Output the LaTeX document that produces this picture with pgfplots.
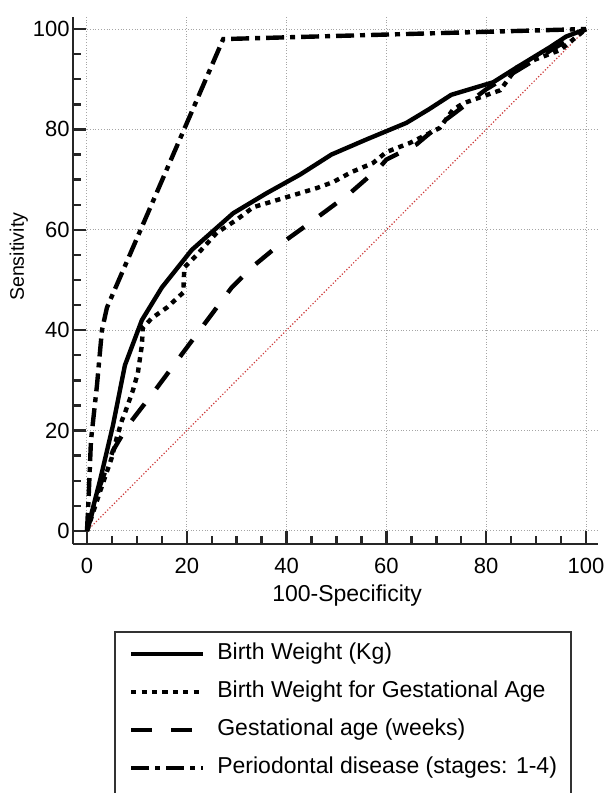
\documentclass[border=0pt]{standalone}
\usepackage{fontspec}
\setmainfont{Liberation Sans}
\usepackage{pgfplots}
\pgfplotsset{compat=1.18}

\definecolor{diagred}{RGB}{205,60,60}
\definecolor{gridgray}{RGB}{165,165,165}

\begin{document}
\begin{tikzpicture}
\useasboundingbox (0,0) rectangle (307pt,396.5pt);
\begin{axis}[
    at={(36.5pt,124.5pt)}, anchor=south west,
    scale only axis, width=262.5pt, height=263.5pt,
    xmin=-2.8, xmax=102.4, ymin=-2.6, ymax=102.4,
    axis lines=left,
    axis line style={-, line width=1.3pt, black!85},
    xtick={0,20,...,100}, ytick={0,20,...,100},
    minor tick num=3,
    tick align=inside,
    major tick length=6.5pt, minor tick length=4pt,
    tick style={line width=1.2pt, black!85},
    grid=major,
    major grid style={gridgray, densely dotted, line width=0.5pt},
    /pgf/number format/assume math mode=true,
    tick label style={font=\fontsize{11}{13}\selectfont},
    xticklabel style={inner sep=0pt, yshift=-7pt},
    yticklabel style={inner sep=0pt, xshift=-1.5pt},
    xlabel={100-Specificity},
    ylabel={Sensitivity},
    xlabel style={font=\fontsize{11.5}{13}\selectfont, at={(axis description cs:0.522,-0.097)}, anchor=center},
    ylabel style={font=\fontsize{9.8}{12}\selectfont, at={(axis description cs:-0.103,0.545)}, anchor=center},
    no marks,
    legend cell align=left,
    legend style={at={(axis description cs:0.078,-0.165)}, anchor=north west,
        draw=black!80, line width=1pt, inner xsep=7pt, inner ysep=5.6pt,
        row sep=8.3pt, font=\fontsize{11.5}{13}\selectfont,
        nodes={inner sep=0pt, text height=8.3pt, text depth=2.4pt}},
    legend image code/.code={\draw[#1] (0pt,0pt) -- (36pt,0pt);},
    /tikz/every odd column/.append style={column sep=6pt},
]
% chance diagonal
\addplot[diagred, densely dotted, line width=0.6pt, forget plot] coordinates {(0,0) (100,100)};

% Birth Weight (Kg)
\addplot[black, line width=2.2pt, line join=round] coordinates {
(0,0) (2.6,10) (5.2,21) (7.6,33) (11,42) (15,48.5) (21,56) (29.3,63.3)
(36,67.3) (42.7,71) (49,75) (56,78) (64,81.3) (68.5,84) (73,86.9)
(81.4,89.4) (86.2,92.4) (92.8,96.4) (96,98.5) (100,100)};
\addlegendentry{Birth Weight (Kg)}

% Birth Weight for Gestational Age
\addplot[black, line width=2.2pt, dash pattern=on 2.6pt off 2.6pt] coordinates {
(0,0) (2.5,7.5) (5,14.7) (6,18.7) (7,22) (7.6,23.5) (9.2,28) (10.2,31.5)
(11,37) (11.2,40.5) (13,42.4) (16,44.5) (19.3,47.5) (19.5,52.5) (22,55)
(26,59.4) (30,62) (33.3,64.5) (40,66.5) (46,68.3) (49.3,69.5) (53,71.5)
(57.3,73.3) (60,75.5) (64.7,77.3) (70.7,80.3) (73.3,83.9) (75.4,85.2)
(82.8,87.8) (86.2,92.4) (90,94) (94.8,95.8) (100,100)};
\addlegendentry{Birth Weight for Gestational Age}

% Gestational age (weeks)
\addplot[black, line width=2.2pt, dash pattern=on 10.5pt off 9.5pt] coordinates {
(0,0) (2.6,9) (5.2,16) (8.2,21) (14,28.5) (22.6,40) (29,48.5) (33,52.5)
(38,56.6) (44.7,61.4) (52.7,67.3) (58.7,72.5) (60,74) (66,77) (72,82)
(80,88) (90,94) (100,100)};
\addlegendentry{Gestational age (weeks)}

% Periodontal disease (stages: 1-4)
\addplot[black, line width=2.2pt, dash pattern=on 9pt off 3pt on 2.5pt off 3pt] coordinates {
(0,0) (0.3,6) (0.8,18) (2,29) (3,40) (4,44.5) (27.3,98) (100,100)};
\addlegendentry{Periodontal disease (stages: 1-4)}

\addlegendimage{empty legend}
\addlegendentry{}
\end{axis}
\end{tikzpicture}
\end{document}
